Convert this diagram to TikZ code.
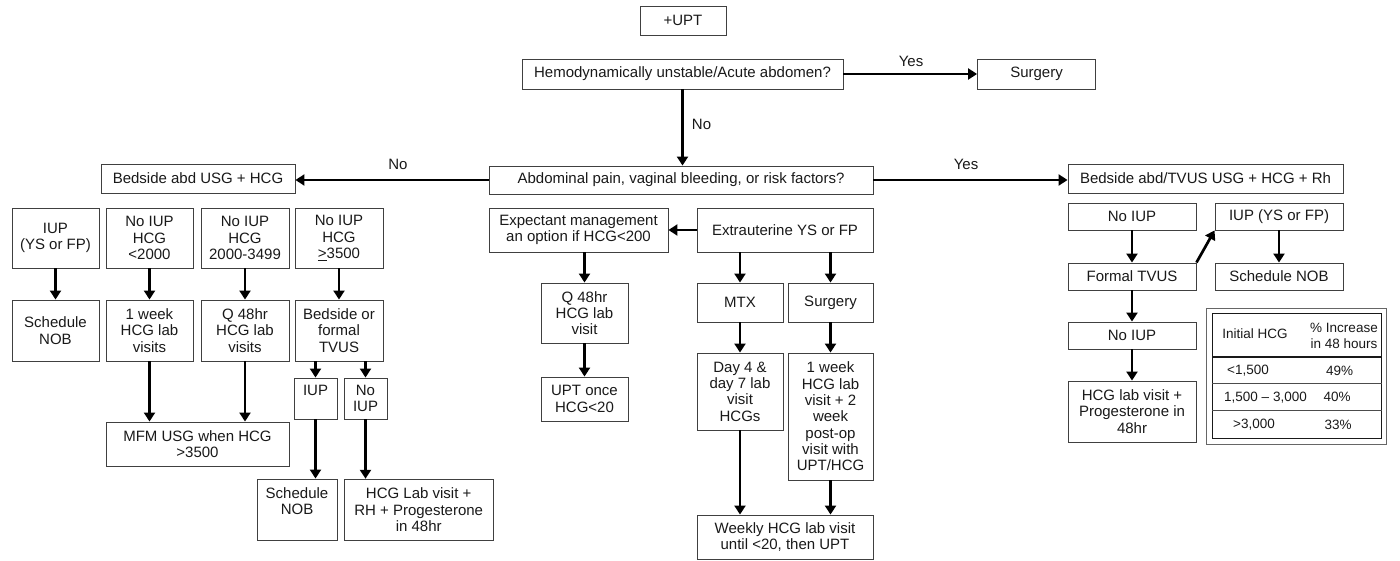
\documentclass[tikz,border=0pt]{standalone}
\usepackage{fontspec}
\setmainfont{Liberation Sans}
\usetikzlibrary{arrows.meta}
\begin{document}
\begin{tikzpicture}[x=1pt,y=-1pt,
  box/.style={draw=black!75, line width=0.9pt, inner sep=0pt, align=center,
    font=\fontsize{15}{16.3}\selectfont, text=black!90},
  arr/.style={line width=2.7pt, -{Triangle[length=9pt,width=11pt]}},
  lbl/.style={font=\fontsize{15}{16.3}\selectfont, inner sep=0pt, text=black!90},
  tbl/.style={font=\fontsize{13.5}{15.5}\selectfont, inner sep=0pt, align=center, text=black!90}]
\useasboundingbox (0,0) rectangle (1400,561);
\newcommand\bx[6]{\node[box, minimum width=#4pt, minimum height=#5pt] (#1) at (#2,#3) {#6};}

% top
\bx{upt}{683}{20.5}{86}{29}{+UPT}
\bx{hemo}{682.5}{74}{321}{30}{Hemodynamically unstable/Acute abdomen?}
\bx{surgA}{1036.5}{74.3}{118}{30}{Surgery}
\bx{abd}{681}{180}{384}{28}{Abdominal pain, vaginal bleeding, or risk factors?}
\bx{bedL}{198}{178.5}{194}{29}{Bedside abd USG + HCG}
\bx{bedR}{1205.5}{178.5}{275}{29}{Bedside abd/TVUS USG + HCG + Rh}

% left branch
\bx{ra}{55.5}{238}{87}{60}{IUP\\(YS or FP)}
\bx{rb}{149.5}{238}{87}{60}{No IUP\\HCG\\<2000}
\bx{rc}{245}{238}{88}{60}{No IUP\\HCG\\2000-3499}
\bx{rd}{339}{238}{88}{60}{No IUP\\HCG\\\underline{>}3500}
\bx{sa}{55.5}{330.5}{87}{61}{Schedule\\NOB}
\bx{sb}{149.5}{330.5}{87}{61}{1 week\\HCG lab\\visits}
\bx{sc}{245}{330.5}{88}{61}{Q 48hr\\HCG lab\\visits}
\bx{sd}{339}{330.5}{88}{61}{Bedside or\\formal\\TVUS}
\bx{mfm}{197.5}{444}{183}{44}{MFM USG when HCG\\>3500}
\bx{iupL}{315.5}{398.5}{43}{41}{IUP\\\phantom{IUP}}
\bx{noiupL}{365.5}{398.5}{43}{41}{No\\IUP}
\bx{schedL}{297}{509.5}{80}{61}{Schedule\\NOB\\\phantom{NOB}}
\bx{hcgL}{418.7}{509.7}{149}{61}{HCG Lab visit +\\RH + Progesterone\\in 48hr}

% middle branch
\bx{expect}{578.5}{230}{179}{44}{Expectant management\\an option if HCG<200}
\bx{extra}{785}{230}{176}{44}{Extrauterine YS or FP}
\bx{q48}{584.5}{313}{87}{60}{Q 48hr\\HCG lab\\visit}
\bx{uptonce}{584.5}{399}{87}{44}{UPT once\\HCG<20}
\bx{mtx}{740}{302.5}{86}{39}{MTX}
\bx{surgB}{830.5}{302.5}{85}{39}{Surgery}
\bx{day4}{740}{391.5}{86}{77}{Day 4 \&\\day 7 lab\\visit\\HCGs}
\bx{week1}{830.5}{416.5}{85}{127}{1 week\\HCG lab\\visit + 2\\week\\post-op\\visit with\\UPT/HCG}
\bx{weekly}{785}{537}{176}{44}{Weekly HCG lab visit\\until <20, then UPT}

% right branch
\bx{noiupR}{1132}{216.5}{128}{27}{No IUP}
\bx{iupR}{1279}{216.5}{128}{27}{IUP (YS or FP)}
\bx{formal}{1132}{276.5}{128}{27}{Formal TVUS}
\bx{schedR}{1279}{276.5}{128}{27}{Schedule NOB}
\bx{noiupRR}{1132}{335.5}{128}{27}{No IUP}
\bx{hcgR}{1132}{411.5}{128}{61}{HCG lab visit +\\Progesterone in\\48hr}

% connectors
\draw[arr] (hemo.south) -- (hemo.south |- abd.north);
\draw[arr] (hemo.east) -- (hemo.east -| surgA.west);
\draw[arr] (abd.west) -- (abd.west -| bedL.east);
\draw[arr] (abd.east) -- (abd.east -| bedR.west);

\draw[arr] (ra.south) -- (sa.north);
\draw[arr] (rb.south) -- (sb.north);
\draw[arr] (rc.south) -- (sc.north);
\draw[arr] (rd.south) -- (sd.north);
\draw[arr] (sb.south) -- (sb.south |- mfm.north);
\draw[arr] (sc.south) -- (sc.south |- mfm.north);
\draw[arr] (iupL.north |- sd.south) -- (iupL.north);
\draw[arr] (noiupL.north |- sd.south) -- (noiupL.north);
\draw[arr] (iupL.south) -- (iupL.south |- schedL.north);
\draw[arr] (noiupL.south) -- (noiupL.south |- hcgL.north);

\draw[arr] (extra.west) -- (expect.east);
\draw[arr] (q48.north |- expect.south) -- (q48.north);
\draw[arr] (q48.south) -- (uptonce.north);
\draw[arr] (mtx.north |- extra.south) -- (mtx.north);
\draw[arr] (surgB.north |- extra.south) -- (surgB.north);
\draw[arr] (mtx.south) -- (day4.north);
\draw[arr] (surgB.south) -- (week1.north);
\draw[arr] (day4.south) -- (day4.south |- weekly.north);
\draw[arr] (week1.south) -- (week1.south |- weekly.north);

\draw[arr] (noiupR.south) -- (formal.north);
\draw[arr] (iupR.south) -- (schedR.north);
\draw[arr] (formal.north east) -- (iupR.south west);
\draw[arr] (formal.south) -- (noiupRR.north);
\draw[arr] (noiupRR.south) -- (hcgR.north);

% labels
\node[lbl] (yesA) at (911,61) {Yes};
\node[lbl] (noA) at (701.5,124) {No};
\node[lbl] (noB) at (398,164.2) {No};
\node[lbl] (yesB) at (966,164.5) {Yes};

% table
\draw[black!60, line width=0.8pt] (1206.7,308.3) rectangle (1386.7,444);
\draw[black!90, line width=1.2pt] (1212.3,313.3) rectangle (1381.7,438.3);
\draw[black!90, line width=2pt] (1212.3,356.7) -- (1381.7,356.7);
\draw[black!70, line width=1pt] (1212.3,383.3) -- (1381.7,383.3);
\draw[black!70, line width=1pt] (1212.3,410.3) -- (1381.7,410.3);
\node[tbl] (th1) at (1255,334) {Initial HCG};
\node[tbl] (th2) at (1344,335.7) {\% Increase\\in 48 hours};
\node[tbl] (c11) at (1248,370.7) {<1,500};
\node[tbl] (c12) at (1339.5,370.7) {49\%};
\node[tbl] (c21) at (1265.5,397.3) {1,500 – 3,000};
\node[tbl] (c22) at (1337,397.3) {40\%};
\node[tbl] (c31) at (1254,425) {>3,000};
\node[tbl] (c32) at (1338,425) {33\%};
\end{tikzpicture}
\end{document}
